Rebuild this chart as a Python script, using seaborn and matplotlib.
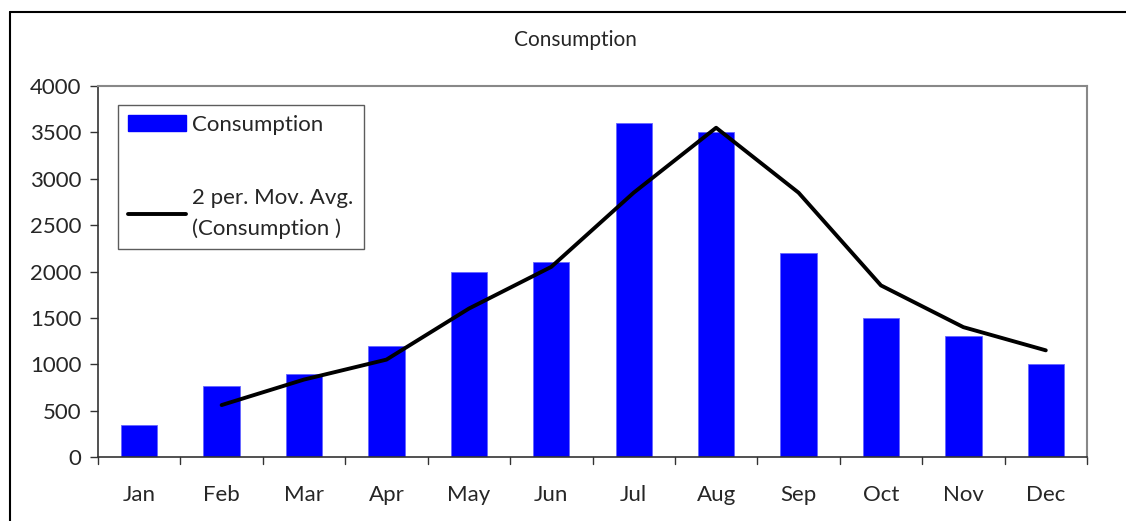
import numpy as np
import pandas as pd
import matplotlib
matplotlib.use("Agg")
import matplotlib.pyplot as plt
import seaborn as sns
from matplotlib.lines import Line2D
from matplotlib.patches import Patch

months = ["Jan", "Feb", "Mar", "Apr", "May", "Jun", "Jul", "Aug", "Sep", "Oct", "Nov", "Dec"]
consumption = [350, 770, 900, 1200, 2000, 2100, 3600, 3500, 2200, 1500, 1300, 1000]
y_ticks = [0, 500, 1000, 1500, 2000, 2500, 3000, 3500, 4000]

sns.set_theme(style="white")
plt.rcParams["font.family"] = ["Lato", "DejaVu Sans"]

W, H = 1126, 521
fig = plt.figure(figsize=(W / 100, H / 100), dpi=100)
ax = fig.add_axes([98 / W, 1 - 457 / H, (1087 - 98) / W, (457 - 86) / H])

df = pd.DataFrame({"month": months, "value": consumption})
df["ma"] = df["value"].rolling(2).mean()

sns.barplot(data=df, x="month", y="value", color="#0000FF", saturation=1,
            width=0.44, ax=ax, edgecolor="#6666FF", linewidth=0.6)
ma = df.dropna()
sns.lineplot(x=ma.index.to_numpy(), y=ma["ma"].to_numpy(), color="black", linewidth=2.8, ax=ax)

FS = 16
ax.set_xlim(-0.5, len(months) - 0.5)
ax.set_ylim(0, 4000)
ax.set_yticks(y_ticks)
ax.set_yticklabels([str(v) for v in y_ticks], fontsize=FS)
ax.set_xticks(np.arange(len(months)))
ax.set_xticklabels(months, fontsize=FS)
ax.set_xlabel("")
ax.set_ylabel("")

ax.tick_params(axis="x", length=0, pad=20)
ax.tick_params(axis="y", length=6, width=1, color="#333333", direction="out", left=True, pad=6)
for b in np.arange(-0.5, len(months) + 0.5, 1):
    ax.plot([b, b], [0, -0.018], transform=ax.get_xaxis_transform(), color="#333333",
            lw=1, clip_on=False)

for s in ["top", "right"]:
    ax.spines[s].set_color("#888888")
    ax.spines[s].set_linewidth(1.5)
for s in ["left", "bottom"]:
    ax.spines[s].set_color("#333333")
    ax.spines[s].set_linewidth(1.2)

fig.text(575 / W, 1 - 40 / H, "Consumption", ha="center", va="center", fontsize=15)

handles = [Patch(facecolor="#0000FF", edgecolor="#0000FF"),
           Line2D([0], [0], color="black", lw=2.8)]
labels = ["Consumption", "2 per. Mov. Avg.\n(Consumption )"]
leg = ax.legend(handles, labels, loc="upper left", bbox_to_anchor=(118 / W, 1 - 105 / H),
                bbox_transform=fig.transFigure, frameon=True, fancybox=False,
                fontsize=FS, handlelength=2.6, handletextpad=0.3, labelspacing=2.4,
                borderpad=0.45, borderaxespad=0)
leg.get_texts()[1].set_linespacing(1.6)
leg.get_frame().set_edgecolor("#333333")
leg.get_frame().set_linewidth(1.0)

# outer chart border (top and left)
fig.add_artist(Line2D([10 / W, 1.0], [1 - 12 / H, 1 - 12 / H], transform=fig.transFigure,
                      color="black", lw=1.5))
fig.add_artist(Line2D([10 / W, 10 / W], [0, 1 - 12 / H], transform=fig.transFigure,
                      color="black", lw=1.5))

fig.savefig("out.png", dpi=100)
